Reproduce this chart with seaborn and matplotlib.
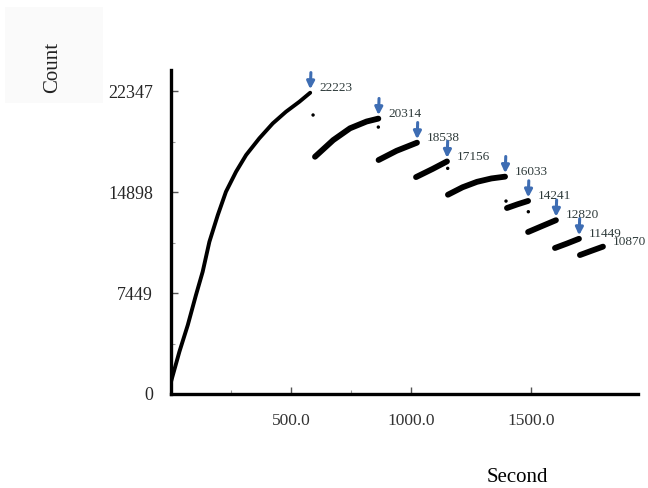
import matplotlib
matplotlib.use("Agg")
import matplotlib.pyplot as plt
from matplotlib.patches import Rectangle
import numpy as np
import pandas as pd
import seaborn as sns

# ---- data ----
seg1_x = [0, 4, 35, 70, 104, 132, 160, 195, 229, 271, 313, 368, 424, 479, 535, 580]
seg1_y = [900, 1158, 3120, 5090, 7300, 9020, 11230, 13200, 14920, 16395, 17630,
          18860, 19960, 20820, 21560, 22223]
seg2_x = [600, 676, 746, 815, 864]
seg2_y = [17500, 18730, 19600, 20100, 20314]
seg3_x = [865, 940, 1025]
seg3_y = [17260, 17940, 18538]
seg4_x = [1021, 1090, 1150]
seg4_y = [16000, 16600, 17156]
seg5_x = [1154, 1215, 1275, 1335, 1392]
seg5_y = [14700, 15250, 15650, 15900, 16033]
seg6_x = [1400, 1445, 1488]
seg6_y = [13720, 14000, 14241]
seg7_x = [1488, 1545, 1604]
seg7_y = [11950, 12380, 12820]
seg8_x = [1600, 1650, 1700]
seg8_y = [10770, 11100, 11449]
seg9_x = [1704, 1750, 1800]
seg9_y = [10250, 10550, 10870]

stray_x = [592, 864, 1153, 1396, 1489]
stray_y = [20580, 19690, 16645, 14230, 13445]

end_labels = [22223, 20314, 18538, 17156, 16033, 14241, 12820, 11449, 10870]
arrow_flags = [1, 1, 1, 1, 1, 1, 1, 1, 0]

y_ticks = [0, 7449, 14898, 22347]
y_ticklabels = ["0", "7449", "14898", "22347"]
x_ticks = [500, 1000, 1500]
x_ticklabels = ["500.0", "1000.0", "1500.0"]

segs = [(seg1_x, seg1_y), (seg2_x, seg2_y), (seg3_x, seg3_y), (seg4_x, seg4_y),
        (seg5_x, seg5_y), (seg6_x, seg6_y), (seg7_x, seg7_y), (seg8_x, seg8_y),
        (seg9_x, seg9_y)]

rows = []
for i, (xs, ys) in enumerate(segs):
    for x, y in zip(xs, ys):
        rows.append({"Second": x, "Count": y, "segment": i})
df = pd.DataFrame(rows)

sns.set_theme(style="white")
plt.rcParams["font.family"] = ["Liberation Serif", "DejaVu Sans"]

fig = plt.figure(figsize=(6.48, 4.88), dpi=100)
W, H = 648, 488
fig.patches.append(Rectangle((5 / W, 1 - 103 / H), 98 / W, 96 / H,
                             transform=fig.transFigure, facecolor="#fafafa",
                             edgecolor="none", zorder=0))
ax = fig.add_axes([171 / W, 1 - 394 / H, (638 - 171) / W, (394 - 70) / H])
ax.set_facecolor("none")

# first rising segment slightly thinner
sns.lineplot(data=df[df.segment == 0], x="Second", y="Count", color="black",
             linewidth=2.8, estimator=None, sort=False, ax=ax, legend=False)
sns.lineplot(data=df[df.segment > 0], x="Second", y="Count", units="segment",
             color="black", linewidth=4.2, estimator=None, sort=False, ax=ax,
             legend=False)
for ln in ax.lines:
    ln.set_solid_joinstyle("round")
    ln.set_solid_capstyle("round")
sns.scatterplot(x=stray_x, y=stray_y, color="black", s=6, edgecolor="none", ax=ax)

for (xs, ys), lab, arr in zip(segs, end_labels, arrow_flags):
    ex, ey = xs[-1], ys[-1]
    ax.annotate(str(lab), xy=(ex, ey), xytext=(7, 3.5), textcoords="offset points",
                ha="left", va="center", fontsize=9.5, color="#2f3b3b",
                annotation_clip=False)
    if arr:
        ax.annotate("", xy=(ex, ey), xytext=(0.5, 14.5), textcoords="offset points",
                    arrowprops=dict(arrowstyle="-|>", color="#3e6db3", lw=2.2,
                                    mutation_scale=11, shrinkA=0, shrinkB=2.5),
                    annotation_clip=False)

ax.set_xlim(0, 1946)
ax.set_ylim(0, 23900)
ax.set_yticks(y_ticks)
ax.set_yticklabels(y_ticklabels, fontsize=13)
ax.set_yticks([3724.5, 11173.5, 18622.5], minor=True)
ax.set_xticks(x_ticks)
ax.set_xticklabels(x_ticklabels, fontsize=12.5, color="#333333")
ax.set_xticks([250, 750], minor=True)
ax.tick_params(axis="both", which="major", direction="in", length=5, width=1,
               color="#555555", pad=12, bottom=True, left=True)
ax.tick_params(axis="both", which="minor", direction="in", length=3, width=0.8,
               color="#999999", bottom=True, left=True)
ax.tick_params(axis="y", which="major", pad=13)
ax.tick_params(axis="x", which="major", pad=14)

for s in ["top", "right"]:
    ax.spines[s].set_visible(False)
for s in ["left", "bottom"]:
    ax.spines[s].set_linewidth(2.4)
    ax.spines[s].set_color("black")

ax.set_xlabel("")
ax.set_ylabel("")
fig.text(53 / W, 1 - 67 / H, "Count", rotation=90, ha="center", va="center",
         fontsize=15, family=["Liberation Serif", "DejaVu Serif"],
         color="#222222")
fig.text(517 / W, 1 - 477 / H, "Second", ha="center", va="center",
         fontsize=15, color="black")

fig.savefig("out.png", dpi=100)
